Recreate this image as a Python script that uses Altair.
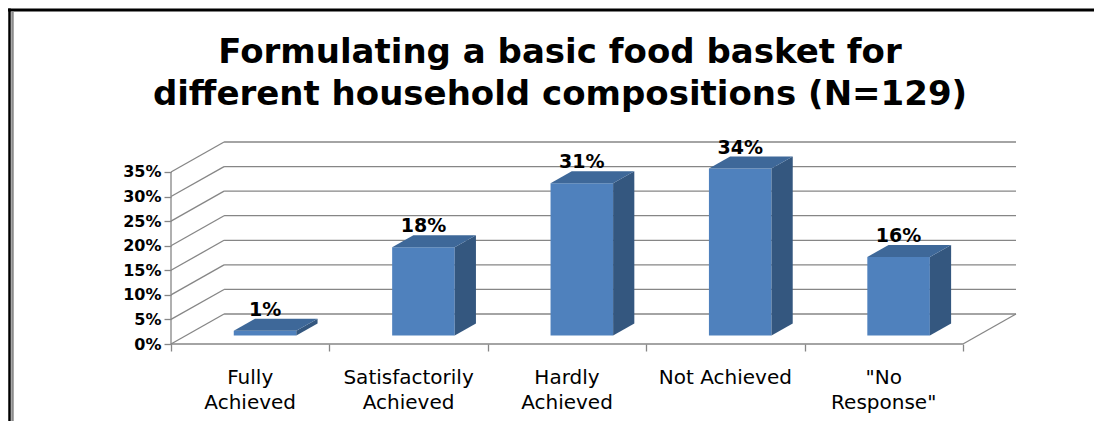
import altair as alt
import pandas as pd

# ---- data ----
categories = ["Fully\nAchieved", "Satisfactorily\nAchieved", "Hardly\nAchieved", "Not Achieved", "\"No\nResponse\""]
values = [1, 18, 31, 34, 16]
value_labels = ["1%", "18%", "31%", "34%", "16%"]
y_ticks = [0, 5, 10, 15, 20, 25, 30, 35]
title_lines = ["Formulating a basic food basket for", "different household compositions (N=129)"]

# ---- 3D geometry (style constants, in axis units) ----
N = len(categories)
DX = 0.335      # depth offset along x (category units)
DY = 6.1        # depth offset along y (percent units)
F0 = 0.28       # bar front plane, as fraction of depth
FB = 0.40       # bar depth, as fraction of depth
BW = 0.395      # bar width (category units)
YMAX = max(y_ticks)

GRID = "#868686"
FRONT = "#4F81BD"
SIDE = "#34577F"
TOP = "#3E6899"

W, H = 845, 202

xs = alt.Scale(domain=[0, N + DX], nice=False, zero=False)
ys = alt.Scale(domain=[0, YMAX + DY], nice=False, zero=False)

x_axis = alt.Axis(values=list(range(N + 1)), labels=False, domain=False, grid=False, ticks=True,
                  tickSize=7, tickColor=GRID, tickWidth=1.3, title=None)
y_axis = alt.Axis(values=y_ticks, labelExpr="datum.value + '%'", domain=False, grid=False,
                  ticks=True, tickSize=7, tickColor=GRID, tickWidth=1.3,
                  labelFont="DejaVu Sans", labelFontSize=16, labelFontWeight="bold",
                  labelColor="black", labelPadding=3, title=None)

# gridlines / walls
rows = []
for v in y_ticks:
    rows.append(dict(x=DX, x2=N + DX, y=v + DY, y2=v + DY))   # back wall
    rows.append(dict(x=0, x2=DX, y=v, y2=v + DY))              # left wall
rows.append(dict(x=N, x2=N + DX, y=0, y2=DY))                  # floor right edge
rows.append(dict(x=0, x2=N, y=0, y2=0))                        # floor front edge
rows.append(dict(x=0, x2=0, y=0, y2=YMAX))                     # front value axis
lines = pd.DataFrame(rows)

grid = alt.Chart(lines).mark_rule(color=GRID, strokeWidth=1.3).encode(
    x=alt.X("x:Q", scale=xs, axis=x_axis),
    x2="x2:Q",
    y=alt.Y("y:Q", scale=ys, axis=y_axis),
    y2="y2:Q",
)

# bars
front_rows, side_rows, top_rows, lab_rows = [], [], [], []
for i, (c, v, lab) in enumerate(zip(categories, values, value_labels)):
    cx = i + 0.5 + F0 * DX
    x0, x1 = cx - BW / 2, cx + BW / 2
    y0, y1 = F0 * DY, v + F0 * DY
    front_rows.append(dict(cat=c, x0=x0, x1=x1, y0=y0, y1=y1))
    for t in (0, 1):
        side_rows.append(dict(cat=c, x=x1 + t * FB * DX, ylo=y0 + t * FB * DY, yhi=y1 + t * FB * DY))
        top_rows.append(dict(cat=c, y=y1 + t * FB * DY, xl=x0 + t * FB * DX, xr=x1 + t * FB * DX))
    lab_rows.append(dict(cat=c, lab=lab, x=cx, y=y1 + FB * DY))

front = alt.Chart(pd.DataFrame(front_rows)).mark_rect(color=FRONT).encode(
    x=alt.X("x0:Q", scale=xs, axis=x_axis), x2="x1:Q",
    y=alt.Y("y0:Q", scale=ys, axis=y_axis), y2="y1:Q",
)
side = alt.Chart(pd.DataFrame(side_rows)).mark_area(color=SIDE, orient="vertical").encode(
    x=alt.X("x:Q", scale=xs, axis=x_axis),
    y=alt.Y("ylo:Q", scale=ys, axis=y_axis), y2="yhi:Q",
    detail="cat:N",
)
top = alt.Chart(pd.DataFrame(top_rows)).mark_area(color=TOP, orient="horizontal").encode(
    y=alt.Y("y:Q", scale=ys, axis=y_axis),
    x=alt.X("xl:Q", scale=xs, axis=x_axis), x2="xr:Q",
    detail="cat:N",
)
vlabels = alt.Chart(pd.DataFrame(lab_rows)).mark_text(
    font="DejaVu Sans", fontSize=19, fontWeight="bold", color="black", baseline="alphabetic", dy=-3
).encode(
    x=alt.X("x:Q", scale=xs, axis=x_axis),
    y=alt.Y("y:Q", scale=ys, axis=y_axis),
    text="lab:N",
)

cat_df = pd.DataFrame(dict(cat=categories, x=[i + 0.5 for i in range(N)]))
cat_labels = alt.Chart(cat_df).mark_text(
    font="DejaVu Sans", fontSize=20, color="black", baseline="top", lineBreak="\n", lineHeight=25,
    align="center"
).encode(
    x=alt.X("x:Q", scale=xs, axis=x_axis),
    y=alt.value(H + 24),
    text="cat:N",
)

# chart title (two lines)
title_df = pd.DataFrame(dict(t=title_lines, yy=[-79, -37]))
title = alt.Chart(title_df).mark_text(
    font="DejaVu Sans", fontSize=34, fontWeight="bold", color="black", baseline="alphabetic", align="center"
).encode(
    x=alt.value(389),
    y=alt.Y("yy:Q", scale=None, axis=None),
    text="t:N",
)

# outer frame of the original figure
frame_df = pd.DataFrame(dict(k=[0]))
frame_top = alt.Chart(frame_df).mark_rule(color="black", strokeWidth=3).encode(
    x=alt.value(-163), x2=alt.value(W + 90), y=alt.value(-132))
frame_left = alt.Chart(frame_df).mark_rule(color="black", strokeWidth=2.5).encode(
    x=alt.value(-161.5), y=alt.value(-133.5), y2=alt.value(H + 90))
frame_left2 = alt.Chart(frame_df).mark_rule(color="#8c8c8c", strokeWidth=2.5).encode(
    x=alt.value(-158.5), y=alt.value(-130.5), y2=alt.value(H + 90))

chart = alt.layer(
    frame_top, frame_left, frame_left2, grid, front, side, top, vlabels, cat_labels, title
).resolve_scale(y="shared").properties(
    width=W, height=H,
    padding={"left": 163, "top": 134, "right": 78, "bottom": 77},
    autosize=alt.AutoSizeParams(type="none"),
).configure(background="white").configure_view(stroke=None)

chart.save("out.html", embed_options={"renderer": "svg", "actions": False})
